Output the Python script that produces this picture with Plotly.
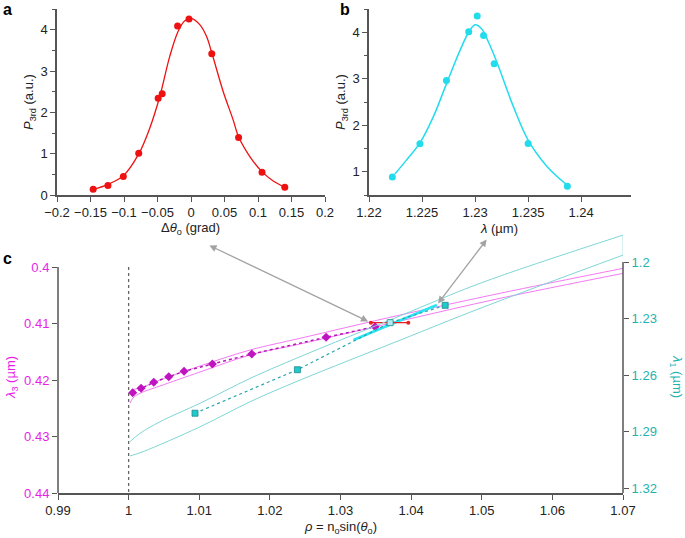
import plotly.graph_objects as go

W, H = 685, 538
FONT = "Liberation Sans, Arial, sans-serif"

# ---------------- Panel a data ----------------
A_X = [-0.146, -0.124, -0.101, -0.078, -0.049, -0.043, -0.020, -0.003, 0.031, 0.071, 0.106, 0.140]
A_Y = [0.14, 0.23, 0.45, 1.01, 2.34, 2.45, 4.09, 4.26, 3.42, 1.39, 0.55, 0.19]
A_FIT_X = [-0.1462, -0.1238, -0.1009, -0.0780, -0.0616, -0.0466, -0.0317, -0.0192, -0.0093,
           0.0007, 0.0131, 0.0231, 0.0311, 0.0480, 0.0629, 0.0709, 0.0878, 0.1058, 0.1227, 0.1401]
A_FIT_Y = [0.137, 0.259, 0.469, 0.994, 1.616, 2.384, 3.354, 3.960, 4.218,
           4.267, 4.121, 3.838, 3.434, 2.505, 1.818, 1.414, 0.929, 0.566, 0.339, 0.186]
A_XTICKS = [-0.2, -0.15, -0.1, -0.05, 0, 0.05, 0.1, 0.15, 0.2]
A_XTEXT = ["\u22120.2", "\u22120.15", "\u22120.1", "\u22120.05", "0", "0.05", "0.1", "0.15", "0.2"]
A_YTICKS = [0, 1, 2, 3, 4]

# ---------------- Panel b data ----------------
B_X = [1.2222, 1.2248, 1.2273, 1.2294, 1.2302, 1.2308, 1.2318, 1.2350, 1.2387]
B_Y = [0.886, 1.60, 2.96, 4.01, 4.35, 3.93, 3.32, 1.61, 0.69]
B_FIT_X = [1.22243, 1.22353, 1.2248, 1.22606, 1.2273, 1.22858, 1.2294, 1.2300, 1.23063,
           1.23126, 1.23205, 1.23363, 1.2350, 1.2368, 1.2387]
B_FIT_Y = [0.95, 1.25, 1.62, 2.18, 2.89, 3.61, 4.00, 4.16, 4.07,
           3.79, 3.36, 2.39, 1.68, 1.11, 0.71]
B_XTICKS = [1.22, 1.225, 1.23, 1.235, 1.24]
B_XTEXT = ["1.22", "1.225", "1.23", "1.235", "1.24"]
B_YTICKS = [1, 2, 3, 4]

# ---------------- Panel c data ----------------
# magenta diamonds (lambda3, left axis)
D_X = [1.00058, 1.00176, 1.00356, 1.00568, 1.00785, 1.01186, 1.01744, 1.02796, 1.03490]
D_Y = [0.42225, 0.42147, 0.42041, 0.41942, 0.41846, 0.41717, 0.41540, 0.41244, 0.41057]
# magenta band (left axis)
MU_X = [1.00034, 1.00204, 1.00445, 1.01011, 1.01720, 1.02428, 1.03844, 1.05261, 1.07003]
MU_Y = [0.42177, 0.42124, 0.42000, 0.41752, 0.41469, 0.41262, 0.40850, 0.40465, 0.40023]
ML_X = [1.00020, 1.00062, 1.00161, 1.00445, 1.01011, 1.01720, 1.02428, 1.03844, 1.05261, 1.07003]
ML_Y = [0.42412, 0.42319, 0.42235, 0.42106, 0.41858, 0.41558, 0.41363, 0.40956, 0.40554, 0.40112]
# cyan band (lambda1, right axis)
CU_X = [1.00020, 1.00161, 1.00445, 1.01011, 1.01720, 1.02428, 1.03844, 1.04977, 1.07003]
CU_Y = [1.2954, 1.2910, 1.2848, 1.2750, 1.2618, 1.2503, 1.2286, 1.2113, 1.1857]
CL_X = [1.00020, 1.00204, 1.01011, 1.01720, 1.02428, 1.03844, 1.04977, 1.07003]
CL_Y = [1.3030, 1.3007, 1.2875, 1.2742, 1.2627, 1.2415, 1.2246, 1.1963]
# teal squares (right axis)
S_X = [1.00940, 1.02390, 1.03703, 1.04482]
S_Y = [1.2803, 1.2572, 1.2322, 1.2230]
S_COL = ["#22c9c9", "#22c9c9", "#b5ecf3", "#22c9c9"]
# bright cyan segment (scan of panel b, left axis)
CB_X = [1.03183, 1.04364]
CB_Y = [0.41292, 0.40673]
# red segment (scan of panel a, left axis)
R_X = [1.0343, 1.0370, 1.0396]
R_Y = [0.40986, 0.40986, 0.40986]
# normal-incidence limit
V_X = [1.0, 1.0]
V_Y = [0.40, 0.44]

C_XTICKS = [0.99, 1.0, 1.01, 1.02, 1.03, 1.04, 1.05, 1.06, 1.07]
C_XTEXT = ["0.99", "1", "1.01", "1.02", "1.03", "1.04", "1.05", "1.06", "1.07"]
C_LTICKS = [0.40, 0.41, 0.42, 0.43, 0.44]
C_LTEXT = ["0.4", "0.41", "0.42", "0.43", "0.44"]
C_RTICKS = [1.20, 1.23, 1.26, 1.29, 1.32]
C_RTEXT = ["1.2", "1.23", "1.26", "1.29", "1.32"]

MAG = "#e81ee8"
TEAL = "#1fb3b0"
AX = "#555555"


def px(x):
    return x / W


def py(y):
    return 1 - y / H


fig = go.Figure()

# panel a
fig.add_trace(go.Scatter(x=A_FIT_X, y=A_FIT_Y, mode="lines", line=dict(color="#ee1111", width=1.3, shape="spline"),
                         xaxis="x", yaxis="y", showlegend=False))
fig.add_trace(go.Scatter(x=A_X, y=A_Y, mode="markers", marker=dict(color="#ee1111", size=7),
                         xaxis="x", yaxis="y", showlegend=False))
# panel b
fig.add_trace(go.Scatter(x=B_FIT_X, y=B_FIT_Y, mode="lines", line=dict(color="#22dcec", width=1.5, shape="spline"),
                         xaxis="x2", yaxis="y2", showlegend=False))
fig.add_trace(go.Scatter(x=B_X, y=B_Y, mode="markers", marker=dict(color="#22dcec", size=7),
                         xaxis="x2", yaxis="y2", showlegend=False))

# panel c
fig.add_trace(go.Scatter(x=V_X, y=V_Y, mode="lines", line=dict(color="#666666", width=1.3, dash="dot"),
                         xaxis="x3", yaxis="y3", showlegend=False))
fig.add_trace(go.Scatter(x=CU_X, y=CU_Y, mode="lines", line=dict(color="#7fd6d6", width=1, shape="spline"),
                         xaxis="x3", yaxis="y4", showlegend=False))
fig.add_trace(go.Scatter(x=CL_X, y=CL_Y, mode="lines", line=dict(color="#7fd6d6", width=1, shape="spline"),
                         xaxis="x3", yaxis="y4", showlegend=False))
fig.add_trace(go.Scatter(x=[CU_X[-1], CL_X[-1]], y=[CU_Y[-1], CL_Y[-1]], mode="lines",
                         line=dict(color="#7fd6d6", width=1), xaxis="x3", yaxis="y4", showlegend=False))
fig.add_trace(go.Scatter(x=MU_X, y=MU_Y, mode="lines", line=dict(color="#f57af5", width=1, shape="spline"),
                         xaxis="x3", yaxis="y3", showlegend=False))
fig.add_trace(go.Scatter(x=ML_X, y=ML_Y, mode="lines", line=dict(color="#f57af5", width=1, shape="spline"),
                         xaxis="x3", yaxis="y3", showlegend=False))
fig.add_trace(go.Scatter(x=S_X, y=S_Y, mode="lines+markers", line=dict(color="#2aa6ad", width=1.2, dash="dot"),
                         marker=dict(symbol="square", size=6, color=S_COL, line=dict(color="#1a8a90", width=0.8)),
                         xaxis="x3", yaxis="y4", showlegend=False))
fig.add_trace(go.Scatter(x=D_X, y=D_Y, mode="lines+markers", line=dict(color="#b418b4", width=1.5, dash="dot"),
                         marker=dict(symbol="diamond", size=7, color="#c014c0"),
                         xaxis="x3", yaxis="y3", showlegend=False))
fig.add_trace(go.Scatter(x=CB_X, y=CB_Y, mode="lines", line=dict(color="#2ae6f5", width=2.5),
                         xaxis="x3", yaxis="y3", showlegend=False))
fig.add_trace(go.Scatter(x=R_X, y=R_Y, mode="lines", line=dict(color="#e82020", width=1.3),
                         xaxis="x3", yaxis="y3", showlegend=False))
fig.add_trace(go.Scatter(x=[R_X[0], R_X[-1]], y=[R_Y[0], R_Y[-1]], mode="markers",
                         marker=dict(color="#e82020", size=4), xaxis="x3", yaxis="y3", showlegend=False))

C_RANGE_L = [0.44, 0.44 - (493 - 230) / 5650.0]
C_RANGE_R = [1.2 + (493 - 262) / 1883.33, 1.2 - (262 - 230) / 1883.33]

tickfont = dict(family=FONT, size=13, color="#222222")
common = dict(showgrid=False, zeroline=False, ticks="outside", ticklen=5, tickwidth=1.2, tickcolor=AX,
              automargin=False)
ytitle_ab = dict(text="<i>P</i><sub>3rd</sub> (a.u.)", font=dict(family=FONT, size=13, color="#222222"), standoff=4)

fig.update_layout(
    width=W, height=H, autosize=False,
    margin=dict(l=0, r=0, t=0, b=0, autoexpand=False),
    paper_bgcolor="white", plot_bgcolor="white",
    font=dict(family=FONT, size=13, color="#222222"),
    hovermode=False,
    xaxis=dict(domain=[px(57), px(325)], range=[-0.2, 0.2], anchor="y", tickvals=A_XTICKS, ticktext=A_XTEXT,
               showline=True, linecolor=AX, linewidth=1.5, tickfont=tickfont, **common),
    yaxis=dict(domain=[py(195), py(9)], range=[0, 4.5], anchor="x", tickvals=A_YTICKS,
               showline=True, linecolor=AX, linewidth=1.5, tickfont=tickfont, title=ytitle_ab,
               minor=dict(ticks="outside", ticklen=3, tick0=0.5, dtick=1, tickcolor=AX), **common),
    xaxis2=dict(domain=[px(369), px(631)], range=[1.22, 1.2447], anchor="y2", tickvals=B_XTICKS, ticktext=B_XTEXT,
                showline=True, linecolor=AX, linewidth=1.5, tickfont=tickfont, **common),
    yaxis2=dict(domain=[py(195), py(9)], range=[0.5, 4.5], anchor="x2", tickvals=B_YTICKS,
                showline=True, linecolor=AX, linewidth=1.5, tickfont=tickfont, title=ytitle_ab,
                minor=dict(ticks="outside", ticklen=3, tick0=0.5, dtick=1, tickcolor=AX), **common),
    xaxis3=dict(domain=[px(58), px(623)], range=[0.99, 1.07], anchor="y3", tickvals=C_XTICKS, ticktext=C_XTEXT,
                showline=True, linecolor=AX, linewidth=1.5, tickfont=tickfont, **common),
    yaxis3=dict(domain=[py(493), py(230)], range=C_RANGE_L, anchor="x3", tickvals=C_LTICKS, ticktext=C_LTEXT,
                showline=False, tickfont=dict(family=FONT, size=13, color=MAG), **common),
    yaxis4=dict(domain=[py(493), py(230)], range=C_RANGE_R, anchor="x3", overlaying="y3", side="right",
                tickvals=C_RTICKS, ticktext=C_RTEXT, showline=False,
                tickfont=dict(family=FONT, size=13, color=TEAL), **common),
)

# axis spines of panel c that do not span the whole plot height
fig.add_shape(type="line", xref="x3 domain", x0=0, x1=0, yref="y3", y0=C_LTICKS[0], y1=C_LTICKS[-1],
              line=dict(color=AX, width=1.5))
fig.add_shape(type="line", xref="x3 domain", x0=1, x1=1, yref="y4", y0=C_RTICKS[0], y1=C_RANGE_R[0],
              line=dict(color=AX, width=1.5))

ann = []


def label(x, y, text, size=13, color="#222222", angle=0, bold=False):
    if bold:
        text = "<b>" + text + "</b>"
    ann.append(dict(x=px(x), y=py(y), xref="paper", yref="paper", text=text, showarrow=False,
                    font=dict(family=FONT, size=size, color=color), textangle=angle,
                    xanchor="center", yanchor="middle"))


label(7, 10, "a", size=16, bold=True, color="#000000")
label(345, 10, "b", size=16, bold=True, color="#000000")
label(7, 258, "c", size=16, bold=True, color="#000000")
label(190, 228, "\u0394<i>\u03b8</i><sub>o</sub> (grad)")
label(499, 228, "<i>\u03bb</i> (\u00b5m)")
label(11, 378, "<i>\u03bb</i><sub>3</sub> (\u00b5m)", color=MAG, angle=-90)
label(677, 376, "<i>\u03bb</i><sub>1</sub> (\u00b5m)", color=TEAL, angle=90)
label(340, 527, "<i>\u03c1</i> = n<sub>o</sub>sin(<i>\u03b8</i><sub>o</sub>)")

# double-headed arrows linking panels a/b to their scans in c
ann.append(dict(x=R_X[0], y=R_Y[0], xref="x3", yref="y3", ax=-163, ay=-78, text="", showarrow=True,
                arrowhead=2, startarrowhead=2, arrowside="end+start", arrowsize=1.1, arrowwidth=1.3,
                arrowcolor="#a3a3a3", standoff=3, startstandoff=0))
ann.append(dict(x=CB_X[-1], y=CB_Y[-1], xref="x3", yref="y3", ax=51, ay=-67, text="", showarrow=True,
                arrowhead=2, startarrowhead=2, arrowside="end+start", arrowsize=1.1, arrowwidth=1.3,
                arrowcolor="#a3a3a3", standoff=2, startstandoff=0))
fig.update_layout(annotations=ann)

fig.write_html("out.html", config={"displayModeBar": False},
               post_script="document.body.style.margin='0';document.body.style.overflow='hidden';")
